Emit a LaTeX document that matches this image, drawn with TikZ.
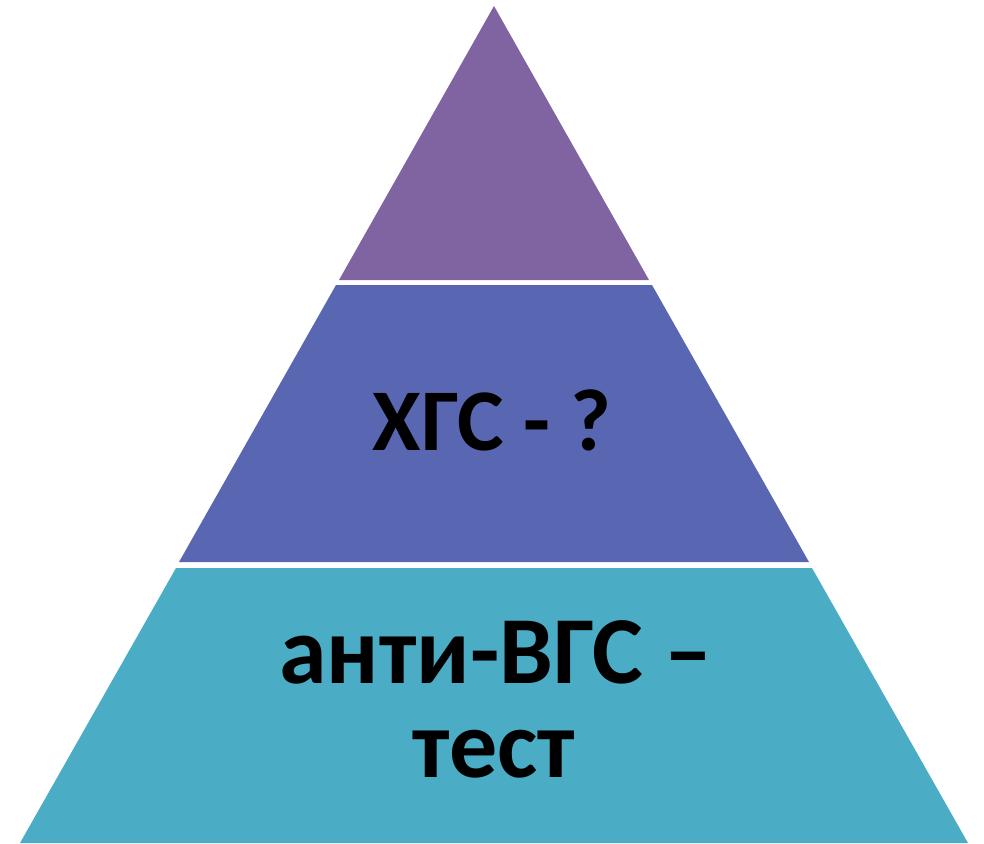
\documentclass[tikz,border=0pt]{standalone}
\usepackage{fontspec}
\setmainfont{Carlito}
\usepackage{tikz}

\definecolor{toplayer}{RGB}{128,100,162}
\definecolor{midlayer}{RGB}{89,103,178}
\definecolor{baselayer}{RGB}{75,172,198}

\begin{document}
\begin{tikzpicture}[x=1pt,y=-1pt,
    label/.style={font=\fontsize{88}{92}\selectfont\bfseries, text=black, align=center, inner sep=0pt},
    biglabel/.style={label, font=\fontsize{96}{100}\selectfont\bfseries}]
    \useasboundingbox (0,0) rectangle (984,843);

    % Layers of the pyramid
    \fill[toplayer] (494,6) -- (649,280) -- (339,280) -- cycle;
    \fill[midlayer] (336,285) -- (652,285) -- (809,562) -- (179,562) -- cycle;
    \fill[baselayer] (176,568) -- (812,568) -- (968,843) -- (20,843) -- cycle;

    % Labels
    \node[label, anchor=base] (middle) at (492,450) {ХГС - ?};
    \node[biglabel, anchor=base] (bottomA) at (496,683) {анти-ВГС –};
    \node[biglabel, anchor=base] (bottomB) at (494,777) {тест};

\end{tikzpicture}
\end{document}
